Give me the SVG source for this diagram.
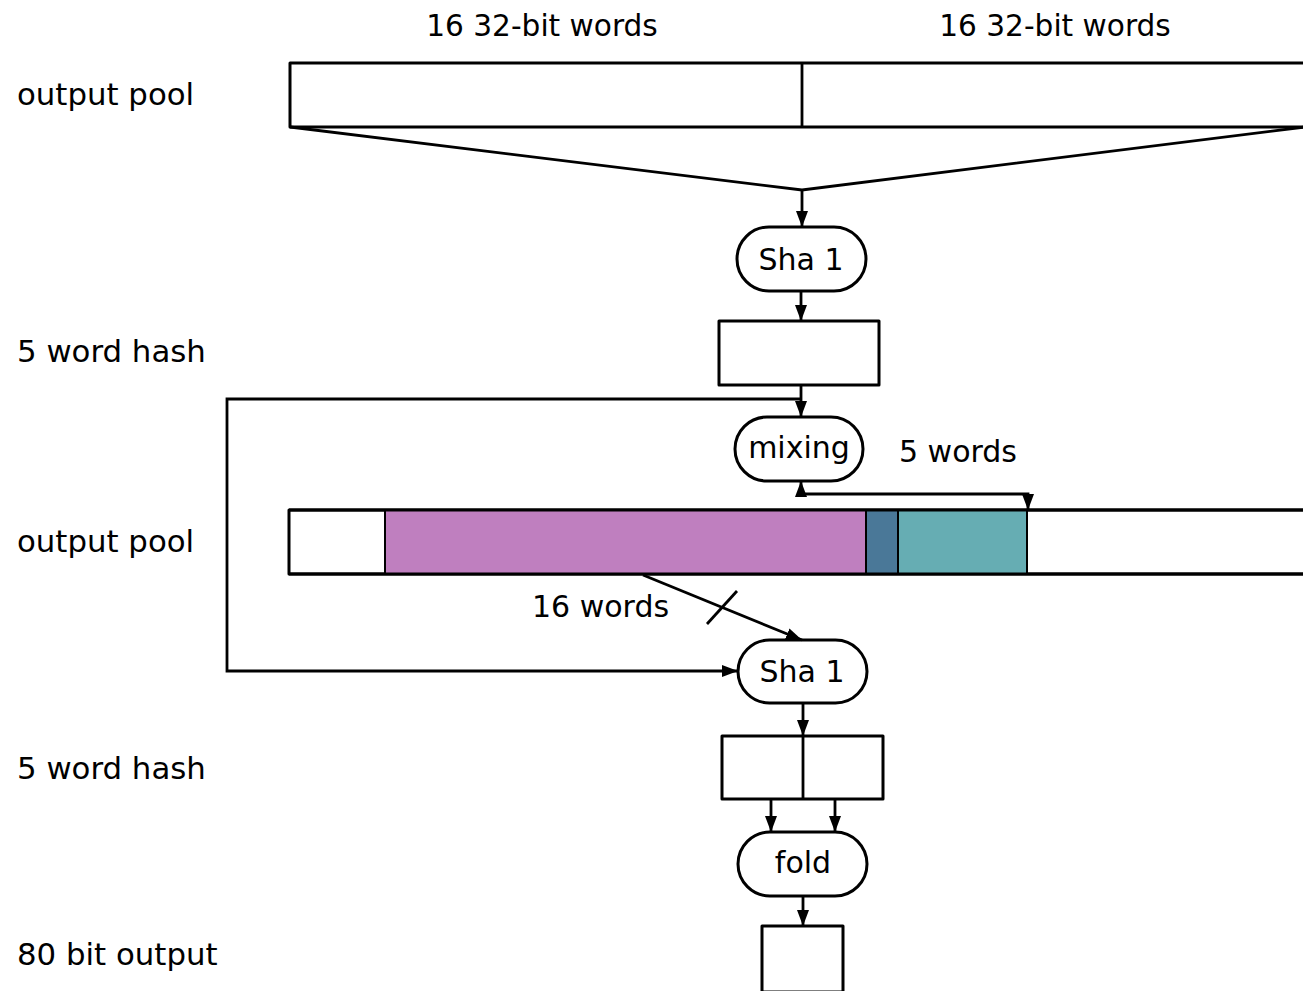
<svg xmlns="http://www.w3.org/2000/svg" width="1303" height="991" viewBox="0 0 1303 991">
<defs>
<style>
.box{fill:#fff;stroke:#000;stroke-width:3;stroke-linejoin:round}
.ln{fill:none;stroke:#000;stroke-width:2.8;stroke-linejoin:miter}
.lbl{font-family:"DejaVu Sans",sans-serif;font-size:30px;fill:#000}
.side{font-size:30.8px}
.top{font-size:29.6px}
.mid{text-anchor:middle}
</style>
<marker id="ah" viewBox="0 0 16 12" refX="16" refY="6" markerWidth="16" markerHeight="12" markerUnits="userSpaceOnUse" orient="auto-start-reverse">
<path d="M0,0 L16,6 L0,12 z" fill="#000"/>
</marker>
</defs>
<rect width="1303" height="991" fill="#fff"/>

<g id="labels">
<text class="lbl top mid" x="542" y="36">16 32-bit words</text>
<text class="lbl top mid" x="1055" y="36">16 32-bit words</text>
<text class="lbl side" x="17" y="105">output pool</text>
<text class="lbl side" x="17" y="362">5 word hash</text>
<text class="lbl side" x="17" y="552">output pool</text>
<text class="lbl side" x="17" y="779">5 word hash</text>
<text class="lbl side" x="17" y="965">80 bit output</text>
<text class="lbl" x="899" y="462">5 words</text>
<text class="lbl" x="532" y="617">16 words</text>
</g>

<g id="pool1">
<rect class="box" x="290" y="63" width="1020" height="64"/>
<line class="ln" x1="802" y1="63" x2="802" y2="127" stroke-width="2.5"/>
</g>

<g id="sha1a">
<rect class="box" x="737" y="227" width="129" height="64" rx="32" ry="32"/>
<text class="lbl mid" x="801" y="270">Sha 1</text>
</g>

<g id="hash1">
<rect class="box" x="719" y="321" width="160" height="64"/>
</g>

<g id="mixing">
<rect class="box" x="735" y="417" width="128" height="64" rx="32" ry="32"/>
<text class="lbl mid" x="799" y="458">mixing</text>
</g>

<g id="pool2">
<rect class="box" x="289" y="510" width="1020" height="64"/>
<rect x="385" y="510" width="481" height="64" fill="#bf7fbf" stroke="#000" stroke-width="2"/>
<rect x="866" y="510" width="32" height="64" fill="#4a7898" stroke="#000" stroke-width="2"/>
<rect x="898" y="510" width="129" height="64" fill="#66adb3" stroke="#000" stroke-width="2"/>
<line class="ln" x1="289" y1="510" x2="1303" y2="510" stroke-width="3"/>
<line class="ln" x1="289" y1="574" x2="1303" y2="574" stroke-width="3"/>
</g>

<g id="sha1b">
<rect class="box" x="738" y="640" width="129" height="63" rx="31.5" ry="31.5"/>
<text class="lbl mid" x="802" y="682">Sha 1</text>
</g>

<g id="hash2">
<rect class="box" x="722" y="736" width="161" height="63"/>
<line class="ln" x1="803" y1="736" x2="803" y2="799" stroke-width="3"/>
</g>

<g id="fold">
<rect class="box" x="738" y="832" width="129" height="64" rx="32" ry="32"/>
<text class="lbl mid" x="803" y="873">fold</text>
</g>

<g id="out">
<rect class="box" x="762" y="926" width="81" height="66"/>
</g>

<g id="connectors">
<polyline class="ln" points="290,127 802,190 1305,127"/>
<line class="ln" x1="802" y1="190" x2="802" y2="227" marker-end="url(#ah)"/>
<line class="ln" x1="801" y1="291" x2="801" y2="321" marker-end="url(#ah)"/>
<line class="ln" x1="801" y1="385" x2="801" y2="417" marker-end="url(#ah)"/>
<polyline class="ln" points="801,399 227,399 227,671 738,671" marker-end="url(#ah)"/>
<path class="ln" d="M801,481 L801,494 L1028,494 L1028,510" marker-start="url(#ah)" marker-end="url(#ah)"/>
<line class="ln" x1="643" y1="575" x2="802" y2="640" marker-end="url(#ah)"/>
<line class="ln" x1="707" y1="624" x2="737" y2="591"/>
<line class="ln" x1="803" y1="703" x2="803" y2="736" marker-end="url(#ah)"/>
<line class="ln" x1="771" y1="799" x2="771" y2="832" marker-end="url(#ah)"/>
<line class="ln" x1="835" y1="799" x2="835" y2="832" marker-end="url(#ah)"/>
<line class="ln" x1="803" y1="896" x2="803" y2="926" marker-end="url(#ah)"/>
</g>
</svg>
